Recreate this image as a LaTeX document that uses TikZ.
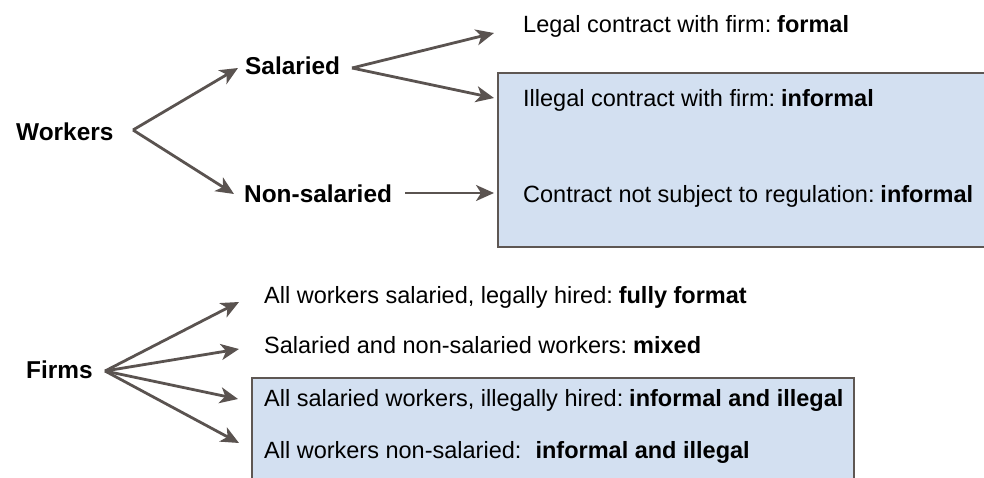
\documentclass[tikz,border=0pt]{standalone}
\usepackage{fontspec}
\setmainfont{Liberation Sans}
\usetikzlibrary{arrows.meta}
\definecolor{arrowc}{HTML}{5A5350}
\definecolor{boxfill}{HTML}{D3E0F1}
\definecolor{boxline}{HTML}{5E5753}
\begin{document}
\begin{tikzpicture}[x=1pt,y=-1pt,
  lbl/.style={anchor=base west,inner sep=0pt,font=\fontsize{24.4}{28}\selectfont\bfseries},
  txt/.style={anchor=base west,inner sep=0pt,font=\fontsize{23.5}{28}\selectfont},
  arr/.style={draw=arrowc,line width=2.8pt,-{Stealth[length=18pt,width=16pt,inset=5pt]}},
  infobox/.style={fill=boxfill,draw=boxline,line width=2.5pt}]
\useasboundingbox (0,0) rectangle (984,477);
\begin{scope}
\clip (0,0) rectangle (984,477);
\draw[infobox] (498,73) rectangle (1000,247);
\draw[infobox] (252,378) rectangle (854,500);
\end{scope}
% Workers tree
\node[lbl] (workers) at (16,140) {Workers};
\node[lbl] (sal) at (245,74) {Salaried};
\node[lbl] (nonsal) at (244,202) {Non-salaried};
\node[txt] (legal) at (523,32) {Legal contract with firm:\hspace{0.25em}\textbf{formal}};
\node[txt] (illegal) at (523,106) {Illegal contract with firm:\hspace{0.25em}\textbf{informal}};
\node[txt] (notsub) at (523,202) {Contract not subject to regulation:\hspace{0.25em}\textbf{informal}};
\coordinate (wfork) at (133,130);
\coordinate (wsal) at (238,68);
\coordinate (wnon) at (234,194);
\coordinate (sfork) at (352,68);
\coordinate (slegal) at (494,33);
\coordinate (sillegal) at (494,98);
\coordinate (nstart) at (405,193);
\coordinate (nend) at (494,193);
\draw[arr] (wfork) -- (wsal);
\draw[arr] (wfork) -- (wnon);
\draw[arr] (sfork) -- (slegal);
\draw[arr] (sfork) -- (sillegal);
\draw[arr,line width=2.2pt] (nstart) -- (nend);
% Firms tree
\node[lbl] (firms) at (26,378) {Firms};
\node[txt] (f1) at (264,303) {All workers salaried, legally hired:\hspace{0.25em}\textbf{fully format}};
\node[txt] (f2) at (264,353) {Salaried and non-salaried workers:\hspace{0.25em}\textbf{mixed}};
\node[txt] (f3) at (264,406) {All salaried workers, illegally hired:\hspace{0.25em}\textbf{informal and illegal}};
\node[txt] (f4) at (264,458) {All workers non-salaried:\hspace{0.6em}\textbf{informal and illegal}};
\coordinate (ffork) at (105,371);
\coordinate (t1) at (239,302);
\coordinate (t2) at (239,349);
\coordinate (t3) at (238,399);
\coordinate (t4) at (239,443);
\draw[arr] (ffork) -- (t1);
\draw[arr] (ffork) -- (t2);
\draw[arr] (ffork) -- (t3);
\draw[arr] (ffork) -- (t4);
\end{tikzpicture}
\end{document}
